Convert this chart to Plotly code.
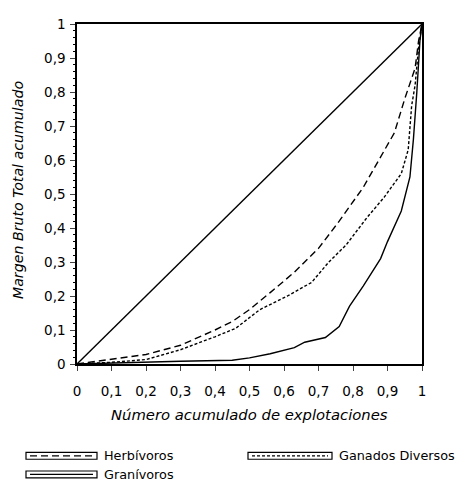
import plotly.graph_objects as go

# ---- data ----
x_herb = [0, 0.1, 0.2, 0.3, 0.4, 0.45, 0.5, 0.56, 0.63, 0.7, 0.76, 0.83, 0.87, 0.92, 0.95, 0.98, 0.99, 1]
y_herb = [0, 0.015, 0.028, 0.055, 0.1, 0.125, 0.16, 0.21, 0.27, 0.34, 0.42, 0.52, 0.59, 0.68, 0.78, 0.87, 0.95, 1]

x_gan = [0, 0.1, 0.2, 0.3, 0.4, 0.46, 0.53, 0.61, 0.68, 0.73, 0.78, 0.84, 0.89, 0.94, 0.96, 0.97, 0.98, 0.99, 1]
y_gan = [0, 0.005, 0.013, 0.042, 0.08, 0.105, 0.16, 0.2, 0.24, 0.3, 0.35, 0.43, 0.49, 0.56, 0.63, 0.76, 0.82, 0.93, 1]

x_gra = [0, 0.1, 0.2, 0.3, 0.45, 0.5, 0.56, 0.63, 0.66, 0.7, 0.72, 0.76, 0.79, 0.83, 0.88, 0.9, 0.94, 0.965, 0.975, 0.985, 0.994, 1]
y_gra = [0, 0.003, 0.005, 0.008, 0.011, 0.018, 0.03, 0.048, 0.064, 0.072, 0.078, 0.11, 0.17, 0.23, 0.31, 0.36, 0.45, 0.55, 0.66, 0.8, 0.95, 1]

x_eq = [0, 1]
y_eq = [0, 1]

tick_vals = [0, 0.1, 0.2, 0.3, 0.4, 0.5, 0.6, 0.7, 0.8, 0.9, 1]
tick_text = ["0", "0,1", "0,2", "0,3", "0,4", "0,5", "0,6", "0,7", "0,8", "0,9", "1"]

names = ["Herbívoros", "Ganados Diversos", "Granívoros"]

FONT = "DejaVu Sans"
OFF = 8  # page body margin (on every side)
W, H = 464 - 2 * OFF, 494 - 2 * OFF
L, R, T, B = 77 - OFF, 42 - OFF, 16 - OFF, 130 - OFF
PW, PH = W - L - R, H - T - B


def px2paper(px, py):
    # px, py are window pixel coordinates
    return (px - OFF - L) / PW, (H - B - (py - OFF)) / PH


fig = go.Figure()
lw = 1.4
fig.add_trace(go.Scatter(x=x_eq, y=y_eq, mode="lines", line=dict(color="black", width=lw), showlegend=False))
fig.add_trace(go.Scatter(x=x_herb, y=y_herb, mode="lines", name=names[0],
                         line=dict(color="black", width=lw, dash="7px,4px"), showlegend=False))
fig.add_trace(go.Scatter(x=x_gan, y=y_gan, mode="lines", name=names[1],
                         line=dict(color="black", width=lw, dash="3px,2px"), showlegend=False))
fig.add_trace(go.Scatter(x=x_gra, y=y_gra, mode="lines", name=names[2],
                         line=dict(color="black", width=lw), showlegend=False))

# custom legend (box samples like the original)
legend_items = [
    (names[0], 26, 71, 458, "7px,4px"),
    (names[1], 248, 84, 458, "3px,2px"),
    (names[2], 26, 71, 477, "solid"),
]
shapes = []
annotations = []
for name, bx, bw, by, dash in legend_items:
    x0, y0 = px2paper(bx, by - 3.5)
    x1, y1 = px2paper(bx + bw, by + 3.5)
    shapes.append(dict(type="rect", xref="paper", yref="paper", x0=x0, x1=x1, y0=y1, y1=y0,
                       line=dict(color="black", width=1.2)))
    lx0, ly = px2paper(bx + 4, by)
    lx1, _ = px2paper(bx + bw - 4, by)
    shapes.append(dict(type="line", xref="paper", yref="paper", x0=lx0, x1=lx1, y0=ly, y1=ly,
                       line=dict(color="black", width=1.2, dash=dash)))
    tx, ty = px2paper(bx + bw + 5, by)
    annotations.append(dict(text=name, xref="paper", yref="paper", x=tx, y=ty, xanchor="left",
                            yanchor="middle", showarrow=False, font=dict(family=FONT, size=12.8, color="black")))

# axis titles
ax, ay = px2paper(77 + PW / 2, 416)
annotations.append(dict(text="<i>Número acumulado de explotaciones</i>", xref="paper", yref="paper",
                        x=ax, y=ay, xanchor="center", yanchor="middle", showarrow=False,
                        font=dict(family=FONT, size=14.8, color="black")))
bx_, by_ = px2paper(18, 186)
annotations.append(dict(text="<i>Margen Bruto Total acumulado</i>", xref="paper", yref="paper",
                        x=bx_, y=by_, xanchor="center", yanchor="middle", showarrow=False, textangle=-90,
                        font=dict(family=FONT, size=14.2, color="black")))

fig.update_layout(
    width=W, height=H,
    margin=dict(l=L, r=R, t=T, b=B),
    paper_bgcolor="white", plot_bgcolor="white",
    font=dict(family=FONT, size=13, color="black"),
    showlegend=False,
    shapes=shapes,
    annotations=annotations,
)
fig.update_xaxes(range=[0, 1], tickvals=tick_vals, ticktext=tick_text, ticks="outside", ticklen=5,
                 tickwidth=1.2, showline=True, linecolor="black", linewidth=1.5, mirror=True,
                 showgrid=False, zeroline=False, tickfont=dict(family=FONT, size=13.5),
                 ticklabelstandoff=9)
fig.update_yaxes(range=[0, 1], tickvals=tick_vals, ticktext=tick_text, ticks="outside", ticklen=5,
                 tickwidth=1.2, showline=True, linecolor="black", linewidth=1.5, mirror=True,
                 showgrid=False, zeroline=False, tickfont=dict(family=FONT, size=13.5),
                 ticklabelstandoff=2,
                 minor=dict(dtick=0.02, ticks="outside", ticklen=2, tickwidth=1, tickcolor="black"))

fig.write_html("out.html")
